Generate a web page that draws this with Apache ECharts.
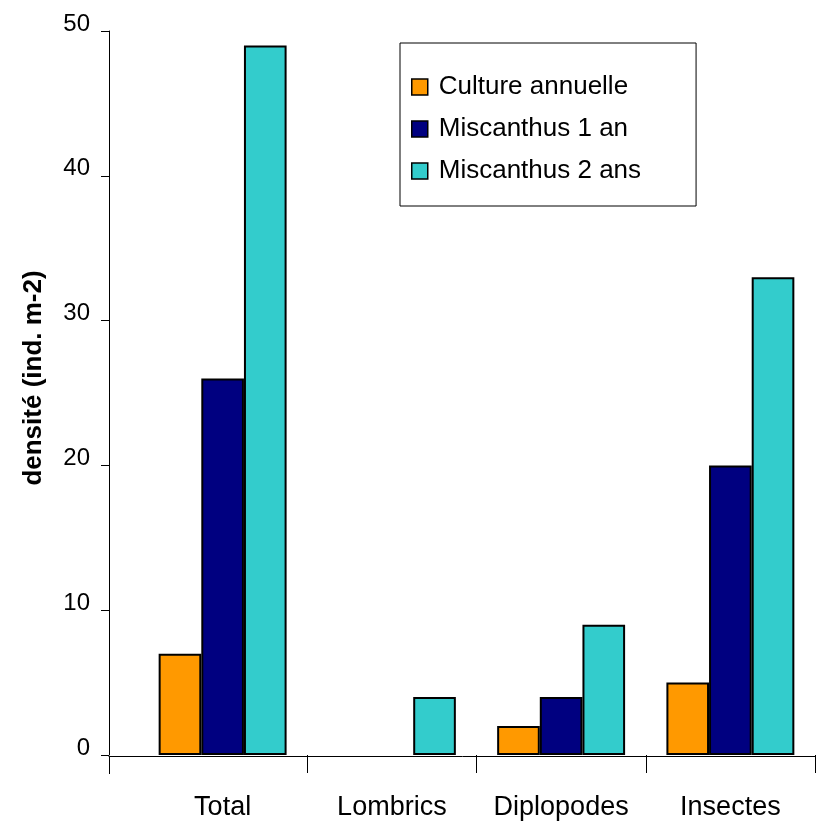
<!DOCTYPE html>
<html>
<head>
<meta charset="utf-8">
<script src="https://cdn.jsdelivr.net/npm/echarts@6/dist/echarts.min.js"></script>
<style>
  html, body { margin: 0; padding: 0; background: #ffffff; }
  #chart { width: 816px; height: 821px; }
</style>
</head>
<body>
<div id="chart"></div>
<script>
// Soil fauna density per group and land use
const categories = ['Total', 'Lombrics', 'Diplopodes', 'Insectes'];
const seriesNames = ['Culture annuelle', 'Miscanthus 1 an', 'Miscanthus 2 ans'];
const cultureAnnuelle = [7, 0, 2, 5];
const miscanthus1an = [26, 0, 4, 20];
const miscanthus2ans = [49, 4, 9, 33];
const yMin = 0;
const yMax = 50;
const yStep = 10;

const FONT = 'Liberation Sans, Arial, sans-serif';
const colors = ['#FF9900', '#000080', '#33CCCC'];
const values = [cultureAnnuelle, miscanthus1an, miscanthus2ans];

const chart = echarts.init(document.getElementById('chart'), null, { renderer: 'canvas' });

const option = {
  animation: false,
  backgroundColor: '#ffffff',
  grid: [
    // plotting area for the bars
    { left: 138, right: 1, top: 31, bottom: 65, containLabel: false },
    // baseline running from the value axis out past the right edge
    { left: 109, right: -12, top: 31, bottom: 65, containLabel: false }
  ],
  legend: {
    orient: 'vertical',
    left: 400,
    top: 43,
    padding: [29, 55, 20, 11],
    itemGap: 12,
    itemWidth: 16,
    itemHeight: 16,
    borderColor: '#000000',
    borderWidth: 1,
    backgroundColor: '#ffffff',
    icon: 'rect',
    data: seriesNames,
    itemStyle: { borderColor: '#000000', borderWidth: 1.5 },
    textStyle: {
      fontFamily: FONT,
      fontSize: 26,
      color: '#000000',
      lineHeight: 30,
      padding: [0, 0, 0, 6]
    }
  },
  xAxis: [
    {
      type: 'category',
      gridIndex: 0,
      data: categories,
      axisLine: { show: false },
      axisTick: {
        show: true,
        length: 18,
        interval: function (index) { return index !== 0; },
        lineStyle: { color: '#000000', width: 1 }
      },
      axisLabel: {
        fontFamily: FONT,
        fontSize: 27,
        color: '#000000',
        margin: 39,
        interval: 0
      },
      splitLine: { show: false }
    },
    {
      // baseline with the first boundary tick at the value axis
      type: 'value',
      gridIndex: 1,
      min: 0,
      max: 1,
      interval: 1,
      axisLine: { show: true, onZero: false, lineStyle: { color: '#000000', width: 1 } },
      axisTick: {
        show: true,
        length: 18,
        lineStyle: { color: '#000000', width: 1 }
      },
      axisLabel: { show: false },
      splitLine: { show: false }
    }
  ],
  yAxis: [
    {
      type: 'value',
      gridIndex: 0,
      min: yMin,
      max: yMax,
      interval: yStep,
      offset: 29,
      name: 'densité (ind. m-2)',
      nameLocation: 'middle',
      nameGap: 62,
      nameTextStyle: {
        fontFamily: FONT,
        fontSize: 26,
        fontWeight: 'bold',
        color: '#000000',
        padding: [0, 0, 0, 30]
      },
      axisLine: { show: true, lineStyle: { color: '#000000', width: 1 } },
      axisTick: { show: true, length: 8, lineStyle: { color: '#000000', width: 1 } },
      axisLabel: {
        fontFamily: FONT,
        fontSize: 24,
        color: '#000000',
        margin: 19,
        verticalAlign: 'bottom',
        lineHeight: 14
      },
      splitLine: { show: false }
    },
    {
      type: 'value',
      gridIndex: 1,
      min: yMin,
      max: yMax,
      show: false
    }
  ],
  series: seriesNames.map(function (name, i) {
    return {
      name: name,
      type: 'bar',
      xAxisIndex: 0,
      yAxisIndex: 0,
      // zero-height bars get no outline
      data: values[i].map(function (v) {
        return v === 0 ? { value: v, itemStyle: { borderWidth: 0 } } : v;
      }),
      barGap: '0%',
      barCategoryGap: '24.4%',
      itemStyle: {
        color: colors[i],
        borderColor: '#000000',
        borderWidth: 2
      },
      emphasis: { disabled: true }
    };
  })
};

chart.setOption(option);
</script>
</body>
</html>
